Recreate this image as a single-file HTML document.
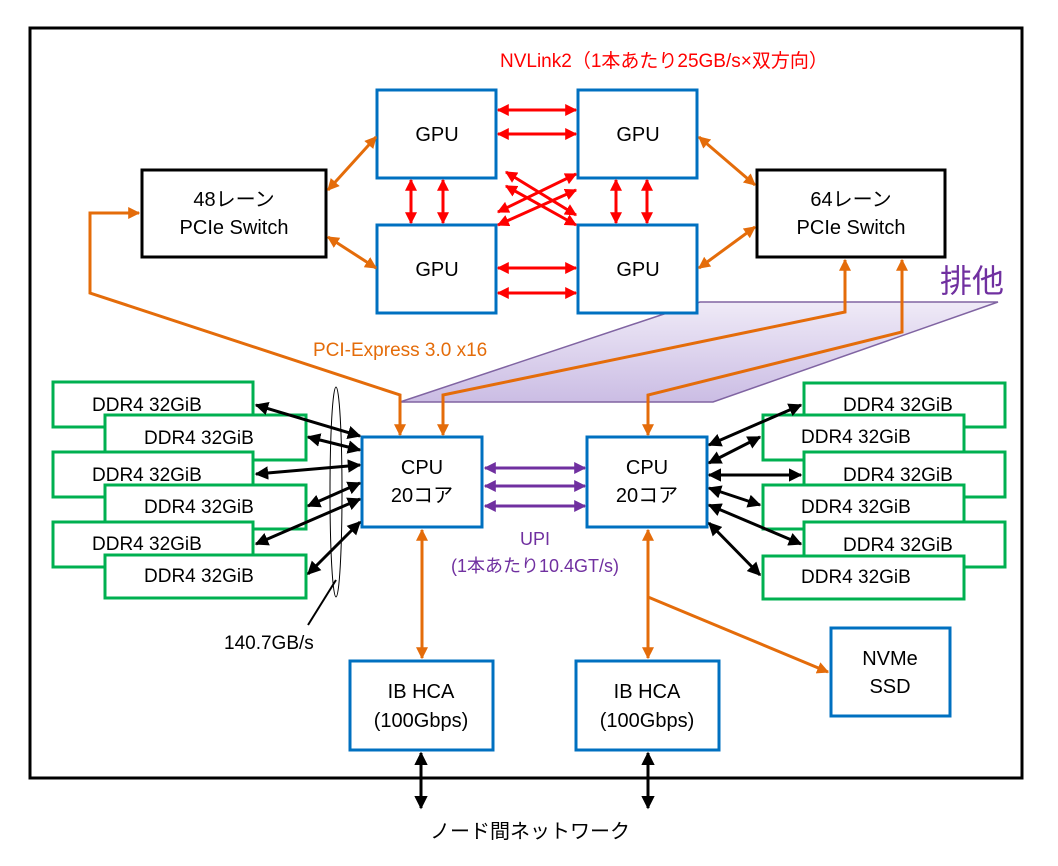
<!DOCTYPE html>
<html><head><meta charset="utf-8"><style>
html,body{margin:0;padding:0;background:#fff;}
svg{display:block;}
text{font-family:"Liberation Sans","Noto Sans CJK JP",sans-serif;}
</style></head><body>
<svg width="1058" height="866" viewBox="0 0 1058 866" xmlns="http://www.w3.org/2000/svg">
<defs>
<marker id="r" viewBox="0 0 10 10" refX="9" refY="5" markerWidth="4" markerHeight="4" orient="auto-start-reverse"><path d="M0,0L10,5L0,10z" fill="#f00"/></marker>
<marker id="o" viewBox="0 0 10 10" refX="9" refY="5" markerWidth="4" markerHeight="4" orient="auto-start-reverse"><path d="M0,0L10,5L0,10z" fill="#E46C0A"/></marker>
<marker id="k" viewBox="0 0 10 10" refX="9" refY="5" markerWidth="4.5" markerHeight="4.5" orient="auto-start-reverse"><path d="M0,0L10,5L0,10z" fill="#000"/></marker>
<marker id="p" viewBox="0 0 10 10" refX="9" refY="5" markerWidth="4" markerHeight="4" orient="auto-start-reverse"><path d="M0,0L10,5L0,10z" fill="#7030A0"/></marker>
<linearGradient id="g" x1="0" y1="0" x2="0" y2="1"><stop offset="0" stop-color="#efeaf7"/><stop offset="1" stop-color="#cbbde4"/></linearGradient>
</defs>
<rect x="30" y="28" width="992" height="750" fill="none" stroke="#000" stroke-width="3"/>
<polygon points="400,402 713,402 998,302 700,302" fill="url(#g)" stroke="#8064A2" stroke-width="1.5"/>
<text x="940" y="292" font-size="32" fill="#7030A0">排他</text>
<text x="500" y="67" font-size="19" fill="#f00">NVLink2（1本あたり25GB/s×双方向）</text>
<!-- GPUs -->
<g fill="#fff" stroke="#0070C0" stroke-width="3">
<rect x="377" y="90" width="119" height="88"/><rect x="578" y="90" width="119" height="88"/>
<rect x="377" y="225" width="119" height="88"/><rect x="578" y="225" width="119" height="88"/>
<rect x="362" y="437" width="120" height="90"/><rect x="587" y="437" width="120" height="90"/>
<rect x="350" y="661" width="143" height="89"/><rect x="576" y="661" width="143" height="89"/>
<rect x="831" y="628" width="119" height="88"/>
</g>
<g font-size="20" text-anchor="middle" fill="#000">
<text x="437" y="141">GPU</text><text x="638" y="141">GPU</text>
<text x="437" y="276">GPU</text><text x="638" y="276">GPU</text>
<text x="422" y="474">CPU</text><text x="422" y="502">20コア</text>
<text x="647" y="474">CPU</text><text x="647" y="502">20コア</text>
<text x="421" y="698">IB HCA</text><text x="421" y="727">(100Gbps)</text>
<text x="647" y="698">IB HCA</text><text x="647" y="727">(100Gbps)</text>
<text x="890" y="665">NVMe</text><text x="890" y="693">SSD</text>
</g>
<g fill="#fff" stroke="#000" stroke-width="3">
<rect x="142" y="170" width="184" height="87"/><rect x="757" y="170" width="188" height="87"/>
</g>
<g font-size="20" text-anchor="middle">
<text x="234" y="206">48レーン</text><text x="234" y="234">PCIe Switch</text>
<text x="851" y="206">64レーン</text><text x="851" y="234">PCIe Switch</text>
</g>
<!-- red nvlink -->
<g stroke="#f00" stroke-width="3" marker-start="url(#r)" marker-end="url(#r)">
<line x1="498" y1="110" x2="576" y2="110"/><line x1="498" y1="134" x2="576" y2="134"/>
<line x1="498" y1="268" x2="576" y2="268"/><line x1="498" y1="293" x2="576" y2="293"/>
<line x1="411" y1="180" x2="411" y2="223"/><line x1="443" y1="180" x2="443" y2="223"/>
<line x1="616" y1="180" x2="616" y2="223"/><line x1="647" y1="180" x2="647" y2="223"/>
<line x1="506" y1="172" x2="576" y2="215"/><line x1="506" y1="186" x2="576" y2="225"/>
<line x1="498" y1="212" x2="576" y2="174"/><line x1="498" y1="225" x2="576" y2="190"/>
</g>
<!-- orange -->
<g stroke="#E46C0A" stroke-width="3" fill="none">
<line x1="328" y1="190" x2="376" y2="137" marker-start="url(#o)" marker-end="url(#o)"/>
<line x1="328" y1="237" x2="376" y2="268" marker-start="url(#o)" marker-end="url(#o)"/>
<line x1="699" y1="137" x2="755" y2="185" marker-start="url(#o)" marker-end="url(#o)"/>
<line x1="699" y1="268" x2="755" y2="227" marker-start="url(#o)" marker-end="url(#o)"/>
<polyline points="400,435 400,395 90,293 90,213 139,213" marker-start="url(#o)" marker-end="url(#o)"/>
<polyline points="443,435 443,395 845,312 845,260" marker-start="url(#o)" marker-end="url(#o)"/>
<polyline points="648,435 648,395 902,332 902,260" marker-start="url(#o)" marker-end="url(#o)"/>
<line x1="422" y1="530" x2="422" y2="658" marker-start="url(#o)" marker-end="url(#o)"/>
<line x1="648" y1="530" x2="648" y2="658" marker-start="url(#o)" marker-end="url(#o)"/>
<line x1="648" y1="597" x2="828" y2="672" marker-end="url(#o)"/>
</g>
<text x="313" y="356" font-size="19" fill="#E46C0A">PCI-Express 3.0 x16</text>
<!-- UPI -->
<g stroke="#7030A0" stroke-width="3" marker-start="url(#p)" marker-end="url(#p)">
<line x1="485" y1="468" x2="585" y2="468"/><line x1="485" y1="486" x2="585" y2="486"/><line x1="485" y1="506" x2="585" y2="506"/>
</g>
<text x="535" y="545" font-size="18" fill="#7030A0" text-anchor="middle">UPI</text>
<text x="535" y="572" font-size="18" fill="#7030A0" text-anchor="middle">(1本あたり10.4GT/s)</text>
<!-- DDR -->
<g fill="#fff" stroke="#00B050" stroke-width="3">
<rect x="53" y="382" width="200" height="45"/><rect x="105" y="415" width="201" height="45"/>
<rect x="53" y="452" width="200" height="45"/><rect x="105" y="485" width="201" height="44"/>
<rect x="53" y="522" width="200" height="45"/><rect x="105" y="555" width="201" height="43"/>
<rect x="804" y="383" width="201" height="44"/><rect x="763" y="415" width="201" height="45"/>
<rect x="804" y="452" width="201" height="45"/><rect x="763" y="485" width="201" height="44"/>
<rect x="804" y="522" width="201" height="45"/><rect x="763" y="556" width="201" height="43"/>
</g>
<g font-size="19" fill="#000">
<text x="92" y="411">DDR4 32GiB</text><text x="144" y="444">DDR4 32GiB</text>
<text x="92" y="481">DDR4 32GiB</text><text x="144" y="513">DDR4 32GiB</text>
<text x="92" y="550">DDR4 32GiB</text><text x="144" y="582">DDR4 32GiB</text>
<text x="843" y="411">DDR4 32GiB</text><text x="801" y="443">DDR4 32GiB</text>
<text x="843" y="481">DDR4 32GiB</text><text x="801" y="513">DDR4 32GiB</text>
<text x="843" y="551">DDR4 32GiB</text><text x="801" y="583">DDR4 32GiB</text>
</g>
<ellipse cx="336" cy="492" rx="6" ry="105" fill="none" stroke="#000" stroke-width="1"/>
<g stroke="#000" stroke-width="3" marker-start="url(#k)" marker-end="url(#k)">
<line x1="256" y1="405" x2="360" y2="436"/><line x1="308" y1="437" x2="360" y2="450"/>
<line x1="256" y1="474" x2="360" y2="465"/><line x1="308" y1="506" x2="360" y2="483"/>
<line x1="256" y1="544" x2="360" y2="499"/><line x1="308" y1="574" x2="360" y2="522"/>
<line x1="801" y1="405" x2="709" y2="445"/><line x1="760" y1="437" x2="709" y2="463"/>
<line x1="801" y1="475" x2="709" y2="475"/><line x1="760" y1="505" x2="709" y2="488"/>
<line x1="801" y1="544" x2="709" y2="505"/><line x1="760" y1="575" x2="709" y2="523"/>
<line x1="421" y1="753" x2="421" y2="808"/><line x1="648" y1="753" x2="648" y2="808"/>
</g>
<line x1="336" y1="580" x2="308" y2="625" stroke="#000" stroke-width="2"/>
<text x="224" y="649" font-size="19">140.7GB/s</text>
<text x="530" y="838" font-size="20" text-anchor="middle">ノード間ネットワーク</text>
</svg>
</body></html>
